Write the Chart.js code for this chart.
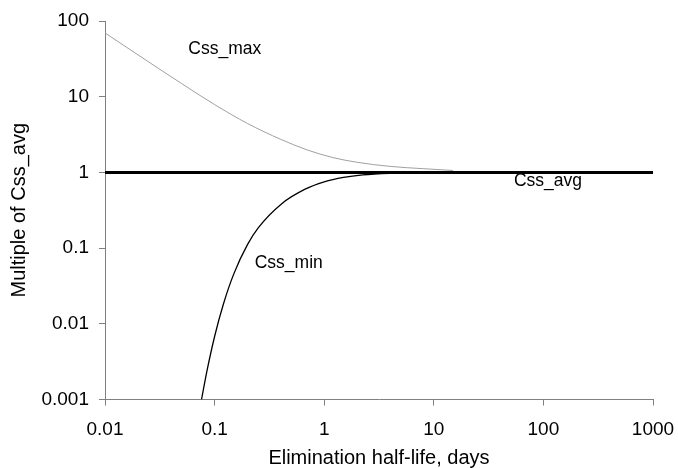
<!DOCTYPE html>
<html>
<head>
<meta charset="utf-8">
<script src="https://cdn.jsdelivr.net/npm/chart.js@4/dist/chart.umd.min.js"></script>
<style>
    body { margin: 0; background: #fff; }
    #box { width: 678px; height: 468px; }
</style>
</head>
<body>
<div id="box"><canvas id="chart"></canvas></div>
<script>
// values (half-life in days, multiple of Css_avg)
var maxHalfLife = [0.01, 0.02, 0.05, 0.1, 0.2, 0.4, 0.7, 1.2, 2, 4, 8, 15];
var maxValues   = [69.6, 35.7, 14.9, 7.87, 4.42, 2.74, 1.98, 1.57, 1.36, 1.2, 1.12, 1.06];

var minHalfLife = [0.076, 0.085, 0.1, 0.12, 0.15, 0.2, 0.25, 0.41, 0.67, 1.0, 1.5, 2.25, 4, 8, 15];
var minValues   = [0.001, 0.00235, 0.0068, 0.018, 0.046, 0.112, 0.185, 0.386, 0.6, 0.75, 0.86, 0.93, 0.975, 0.993, 1.0];

var avgHalfLife = [0.01, 1000];
var avgValues   = [1, 1];

var xTicks = [0.01, 0.1, 1, 10, 100, 1000];
var xTickLabels = ['0.01', '0.1', '1', '10', '100', '1000'];
var yTicks = [0.001, 0.01, 0.1, 1, 10, 100];
var yTickLabels = ['0.001', '0.01', '0.1', '1', '10', '100'];

var seriesNames = ['Css_avg', 'Css_max', 'Css_min'];

function toPoints(xs, ys) {
    return xs.map(function (x, i) { return { x: x, y: ys[i] }; });
}

// curve labels, placed in data units
var curveLabels = [
    { text: 'Css_max', x: 0.124, y: 42 },
    { text: 'Css_avg', x: 110, y: 0.76 },
    { text: 'Css_min', x: 0.475, y: 0.063 }
];

var labelPlugin = {
    id: 'curveLabels',
    afterDatasetsDraw: function (chart) {
        var ctx = chart.ctx;
        var xs = chart.scales.x, ys = chart.scales.y;
        ctx.save();
        ctx.font = '17.5px "Liberation Sans", Arial, sans-serif';
        ctx.fillStyle = '#000';
        ctx.textAlign = 'center';
        ctx.textBaseline = 'middle';
        curveLabels.forEach(function (l) {
            ctx.fillText(l.text, xs.getPixelForValue(l.x), ys.getPixelForValue(l.y));
        });
        ctx.restore();
    }
};

var axisGrey = '#808080';
var tickFont = { family: '"Liberation Sans", Arial, sans-serif', size: 19 };
var titleFont = { family: '"Liberation Sans", Arial, sans-serif', size: 20, lineHeight: 1 };

new Chart(document.getElementById('chart'), {
    type: 'line',
    data: {
        datasets: [
            {
                label: seriesNames[0],
                data: toPoints(avgHalfLife, avgValues),
                borderColor: '#000',
                borderWidth: 3,
                pointRadius: 0
            },
            {
                label: seriesNames[1],
                data: toPoints(maxHalfLife, maxValues),
                borderColor: '#a0a0a0',
                borderWidth: 1,
                pointRadius: 0,
                cubicInterpolationMode: 'monotone'
            },
            {
                label: seriesNames[2],
                data: toPoints(minHalfLife, minValues),
                borderColor: '#000',
                borderWidth: 1.3,
                pointRadius: 0,
                cubicInterpolationMode: 'monotone'
            }
        ]
    },
    options: {
        responsive: true,
        maintainAspectRatio: false,
        animation: false,
        layout: { padding: { top: 21, right: 25, left: 0, bottom: 0 } },
        plugins: {
            legend: { display: false },
            tooltip: { enabled: false }
        },
        scales: {
            x: {
                type: 'logarithmic',
                min: 0.01,
                max: 1000,
                afterBuildTicks: function (scale) {
                    scale.ticks = xTicks.map(function (v) { return { value: v }; });
                },
                afterFit: function (scale) {
                    scale.height = 68.5;
                    scale.paddingLeft = 0;
                    scale.paddingRight = 0;
                },
                ticks: {
                    autoSkip: false,
                    maxRotation: 0,
                    color: '#000',
                    font: tickFont,
                    padding: 13,
                    callback: function (v) { return xTickLabels[xTicks.indexOf(v)]; }
                },
                grid: { drawOnChartArea: false, tickLength: 6, color: axisGrey },
                border: { display: true, color: axisGrey, width: 1 },
                title: {
                    display: true,
                    text: 'Elimination half-life, days',
                    color: '#000',
                    font: titleFont,
                    padding: 0
                }
            },
            y: {
                type: 'logarithmic',
                min: 0.001,
                max: 100,
                afterBuildTicks: function (scale) {
                    scale.ticks = yTicks.map(function (v) { return { value: v }; });
                },
                afterFit: function (scale) {
                    scale.width = 105;
                    scale.paddingTop = 0;
                    scale.paddingBottom = 0;
                },
                ticks: {
                    autoSkip: false,
                    color: '#000',
                    font: tickFont,
                    padding: 10,
                    callback: function (v) { return yTickLabels[yTicks.indexOf(v)]; }
                },
                grid: { drawOnChartArea: false, tickLength: 6, color: axisGrey },
                border: { display: true, color: axisGrey, width: 1 },
                title: {
                    display: true,
                    text: 'Multiple of Css_avg',
                    color: '#000',
                    font: titleFont,
                    padding: { top: 9.5, bottom: 0 }
                }
            }
        }
    },
    plugins: [labelPlugin]
});
</script>
</body>
</html>
